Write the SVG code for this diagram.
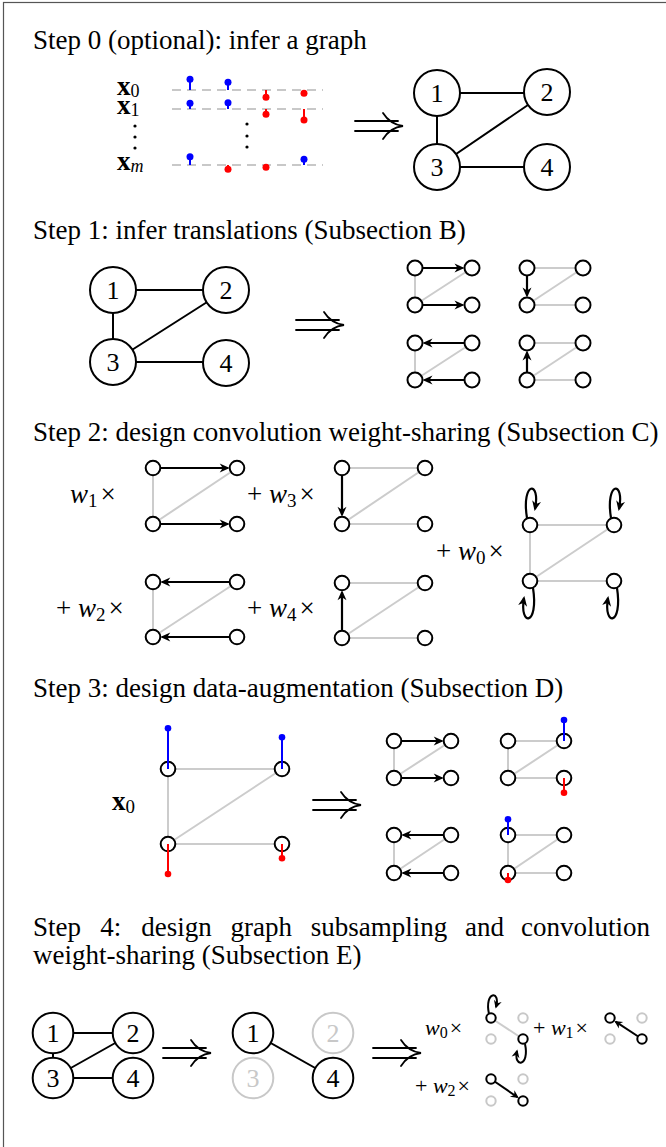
<svg xmlns="http://www.w3.org/2000/svg" width="666" height="1147" viewBox="0 0 666 1147">
  <style>
    .title { font-family: "Liberation Serif", "Times New Roman", serif; font-size: 27px; fill: #000; }
    .lbl { font-family: "Liberation Serif", "Times New Roman", serif; font-size: 26px; text-anchor: middle; dominant-baseline: central; fill: #000; }
    .lbl.g { fill: #c8c8c8; }
    .m { font-family: "Liberation Serif", "Times New Roman", serif; font-size: 27px; fill: #000; }
    .ms { font-family: "Liberation Serif", "Times New Roman", serif; font-size: 22px; fill: #000; }
    .it { font-style: italic; }
    .bf { font-weight: bold; }
    .big { fill: #fff; stroke: #000; stroke-width: 2; }
    .big.g { stroke: #c8c8c8; }
    .nd { fill: #fff; stroke: #000; stroke-width: 2; }
    .nd.g { stroke: #c8c8c8; }
    .e { stroke: #000; stroke-width: 2; fill: none; }
    .ge { stroke: #cccccc; stroke-width: 2; fill: none; }
    .ar { stroke: #000; stroke-width: 2.2; fill: none; marker-end: url(#ah); }
    .ars { stroke: #000; stroke-width: 2; fill: none; marker-end: url(#ahs); }
    .dash { stroke: #c8c8c8; stroke-width: 2; stroke-dasharray: 9 6; fill: none; }
    .bs { stroke: #0000ff; stroke-width: 2; }
    .rs { stroke: #ff0000; stroke-width: 2; }
    .bd { fill: #0000ff; }
    .rd { fill: #ff0000; }
    .imp { stroke: #000; stroke-width: 1.8; fill: none; stroke-linecap: round; }
  </style>
  <defs>
    <marker id="ah" viewBox="-9 -5 12 10" refX="0" refY="0" markerWidth="12" markerHeight="10" markerUnits="userSpaceOnUse" orient="auto">
      <path d="M2,0 L-8,-4.5 L-5,0 L-8,4.5 Z" fill="#000"/>
    </marker>
    <marker id="ahs" viewBox="-8 -5 10 10" refX="0" refY="0" markerWidth="10" markerHeight="10" markerUnits="userSpaceOnUse" orient="auto">
      <path d="M1.5,0 L-6.5,-4 L-4,0 L-6.5,4 Z" fill="#000"/>
    </marker>
    <!-- long double implication arrow -->
    <g id="imp">
      <path class="imp" d="M0,-5 H43 M0,5 H43"/>
      <path class="imp" d="M28,-13 C33,-5 40,-1 48,0 C40,1 33,5 28,13"/>
    </g>
  </defs>

  <!-- outer frame -->
  <rect x="3.5" y="2.5" width="720" height="1200" fill="none" stroke="#555" stroke-width="1.2"/>

  <!-- ===== Step 0 ===== -->
  <text class="title" x="33" y="49">Step 0 (optional): infer a graph</text>

  <g id="signals">
    <text class="m bf" x="117" y="95" font-size="26">x<tspan font-weight="normal" font-size="18" dy="2">0</tspan></text>
    <text class="m bf" x="117" y="114" font-size="26">x<tspan font-weight="normal" font-size="18" dy="2">1</tspan></text>
    <text class="m bf" x="117" y="170" font-size="26">x<tspan class="it" font-weight="normal" font-size="18" dy="2">m</tspan></text>
    <circle cx="135" cy="126" r="1.6"/><circle cx="135" cy="137" r="1.6"/><circle cx="135" cy="148" r="1.6"/>
    <circle cx="247" cy="124" r="1.6"/><circle cx="247" cy="136" r="1.6"/><circle cx="247" cy="147" r="1.6"/>
    <path class="dash" d="M172,90 H323 M172,109 H323 M172,165 H323"/>
    <!-- row x0 -->
    <line class="bs" x1="190" y1="90" x2="190" y2="79.3"/><circle class="bd" cx="190" cy="79.3" r="3.5"/>
    <line class="bs" x1="228" y1="90" x2="228" y2="82.3"/><circle class="bd" cx="228" cy="82.3" r="3.5"/>
    <line class="rs" x1="266" y1="90" x2="266" y2="97.3"/><circle class="rd" cx="266" cy="97.3" r="3.5"/>
    <line class="rs" x1="304" y1="90" x2="304" y2="93.3"/><circle class="rd" cx="304" cy="93.3" r="3.5"/>
    <!-- row x1 -->
    <line class="bs" x1="190" y1="109" x2="190" y2="103.3"/><circle class="bd" cx="190" cy="103.3" r="3.5"/>
    <line class="bs" x1="228" y1="109" x2="228" y2="102.7"/><circle class="bd" cx="228" cy="102.7" r="3.5"/>
    <line class="rs" x1="266" y1="109" x2="266" y2="114.3"/><circle class="rd" cx="266" cy="114.3" r="3.5"/>
    <line class="rs" x1="304" y1="109" x2="304" y2="120"/><circle class="rd" cx="304" cy="120" r="3.5"/>
    <!-- row xm -->
    <line class="bs" x1="190" y1="165" x2="190" y2="156.7"/><circle class="bd" cx="190" cy="156.7" r="3.5"/>
    <line class="rs" x1="228" y1="165" x2="228" y2="169.3"/><circle class="rd" cx="228" cy="169.3" r="3.5"/>
    <line class="rs" x1="266" y1="165" x2="266" y2="167.3"/><circle class="rd" cx="266" cy="167.3" r="3.5"/>
    <line class="bs" x1="304" y1="165" x2="304" y2="159.3"/><circle class="bd" cx="304" cy="159.3" r="3.5"/>
  </g>
  <use href="#imp" x="355" y="126"/>

  <g id="s0-edges">
    <path class="e" d="M437,93 H547 M437,93 V167 M437,167 L547,92 M437,167 H547"/>
  </g>
  <g id="s0-n1"><circle class="big" cx="437" cy="93" r="23"/><text class="lbl" x="437" y="93">1</text></g>
  <g id="s0-n2"><circle class="big" cx="547" cy="92" r="23"/><text class="lbl" x="547" y="92">2</text></g>
  <g id="s0-n3"><circle class="big" cx="437" cy="167" r="23"/><text class="lbl" x="437" y="167">3</text></g>
  <g id="s0-n4"><circle class="big" cx="547" cy="167" r="23"/><text class="lbl" x="547" y="167">4</text></g>

  <!-- ===== Step 1 ===== -->
  <text class="title" x="33" y="239">Step 1: infer translations (Subsection B)</text>

  <g id="s1-edges">
    <path class="e" d="M113,290 H226 M113,290 V362 M113,362 L226,290 M113,362 H226"/>
  </g>
  <g id="s1-n1"><circle class="big" cx="113" cy="290" r="23"/><text class="lbl" x="113" y="290">1</text></g>
  <g id="s1-n2"><circle class="big" cx="226" cy="290" r="23"/><text class="lbl" x="226" y="290">2</text></g>
  <g id="s1-n3"><circle class="big" cx="113" cy="362" r="23"/><text class="lbl" x="113" y="362">3</text></g>
  <g id="s1-n4"><circle class="big" cx="226" cy="363" r="23"/><text class="lbl" x="226" y="363">4</text></g>
  <use href="#imp" x="296" y="325"/>

  <!-- translation: right -->
  <g id="t-right">
    <path class="ge" d="M415,268 V305 M415,305 L472,268"/>
    <path class="ar" d="M415,268 H462.5"/>
    <path class="ar" d="M415,305 H462.5"/>
    <circle class="nd" cx="415" cy="268" r="7.5"/><circle class="nd" cx="472" cy="268" r="7.5"/>
    <circle class="nd" cx="415" cy="305" r="7.5"/><circle class="nd" cx="472" cy="305" r="7.5"/>
  </g>
  <!-- translation: down -->
  <g id="t-down">
    <path class="ge" d="M527,268 H583 M527,305 L583,268 M527,305 H583"/>
    <path class="ar" d="M527,268 V295.5"/>
    <circle class="nd" cx="527" cy="268" r="7.5"/><circle class="nd" cx="583" cy="268" r="7.5"/>
    <circle class="nd" cx="527" cy="305" r="7.5"/><circle class="nd" cx="583" cy="305" r="7.5"/>
  </g>
  <!-- translation: left -->
  <g id="t-left">
    <path class="ge" d="M415,343 V380 M415,380 L472,343"/>
    <path class="ar" d="M472,343 H424.5"/>
    <path class="ar" d="M472,380 H424.5"/>
    <circle class="nd" cx="415" cy="343" r="7.5"/><circle class="nd" cx="472" cy="343" r="7.5"/>
    <circle class="nd" cx="415" cy="380" r="7.5"/><circle class="nd" cx="472" cy="380" r="7.5"/>
  </g>
  <!-- translation: up -->
  <g id="t-up">
    <path class="ge" d="M527,343 H583 M527,380 L583,343 M527,380 H583"/>
    <path class="ar" d="M527,380 V352.5"/>
    <circle class="nd" cx="527" cy="343" r="7.5"/><circle class="nd" cx="583" cy="343" r="7.5"/>
    <circle class="nd" cx="527" cy="380" r="7.5"/><circle class="nd" cx="583" cy="380" r="7.5"/>
  </g>

  <!-- ===== Step 2 ===== -->
  <text class="title" x="33" y="441">Step 2: design convolution weight-sharing (Subsection C)</text>

  <text class="m" x="70" y="503"><tspan class="it">w</tspan><tspan font-size="19" dy="4">1</tspan><tspan dy="-4" dx="3">×</tspan></text>
  <g id="c-w1">
    <path class="ge" d="M153,468 V524 M153,524 L237,468"/>
    <path class="ar" d="M153,468 H227.7"/>
    <path class="ar" d="M153,524 H227.7"/>
    <circle class="nd" cx="153" cy="468" r="7.3"/><circle class="nd" cx="237" cy="468" r="7.3"/>
    <circle class="nd" cx="153" cy="524" r="7.3"/><circle class="nd" cx="237" cy="524" r="7.3"/>
  </g>

  <text class="m" x="247" y="503">+ <tspan class="it">w</tspan><tspan font-size="19" dy="4">3</tspan><tspan dy="-4" dx="3">×</tspan></text>
  <g id="c-w3">
    <path class="ge" d="M342,468 H425 M342,524 L425,468 M342,524 H425"/>
    <path class="ar" d="M342,468 V514.7"/>
    <circle class="nd" cx="342" cy="468" r="7.3"/><circle class="nd" cx="425" cy="468" r="7.3"/>
    <circle class="nd" cx="342" cy="524" r="7.3"/><circle class="nd" cx="425" cy="524" r="7.3"/>
  </g>

  <text class="m" x="56" y="617">+ <tspan class="it">w</tspan><tspan font-size="19" dy="4">2</tspan><tspan dy="-4" dx="3">×</tspan></text>
  <g id="c-w2">
    <path class="ge" d="M153,582 V637 M153,637 L237,582"/>
    <path class="ar" d="M237,582 H162.3"/>
    <path class="ar" d="M237,637 H162.3"/>
    <circle class="nd" cx="153" cy="582" r="7.3"/><circle class="nd" cx="237" cy="582" r="7.3"/>
    <circle class="nd" cx="153" cy="637" r="7.3"/><circle class="nd" cx="237" cy="637" r="7.3"/>
  </g>

  <text class="m" x="247" y="617">+ <tspan class="it">w</tspan><tspan font-size="19" dy="4">4</tspan><tspan dy="-4" dx="3">×</tspan></text>
  <g id="c-w4">
    <path class="ge" d="M342,583 H425 M342,638 L425,583 M342,638 H425"/>
    <path class="ar" d="M342,638 V592.3"/>
    <circle class="nd" cx="342" cy="583" r="7.3"/><circle class="nd" cx="425" cy="583" r="7.3"/>
    <circle class="nd" cx="342" cy="638" r="7.3"/><circle class="nd" cx="425" cy="638" r="7.3"/>
  </g>

  <text class="m" x="436" y="560">+ <tspan class="it">w</tspan><tspan font-size="19" dy="4">0</tspan><tspan dy="-4" dx="3">×</tspan></text>
  <g id="c-w0">
    <path class="ge" d="M530,525 H614 M530,525 V581 M530,581 L614,525 M530,581 H614"/>
    <path class="ar" d="M527,518 C521,481 541,480 535,509"/>
    <path class="ar" d="M611,518 C605,481 625,480 619,509"/>
    <path class="ar" d="M533,588 C539,626 519,627 524,598"/>
    <path class="ar" d="M617,588 C623,626 603,627 608,598"/>
    <circle class="nd" cx="530" cy="525" r="7.3"/><circle class="nd" cx="614" cy="525" r="7.3"/>
    <circle class="nd" cx="530" cy="581" r="7.3"/><circle class="nd" cx="614" cy="581" r="7.3"/>
  </g>

  <!-- ===== Step 3 ===== -->
  <text class="title" x="33" y="697">Step 3: design data-augmentation (Subsection D)</text>

  <text class="m bf" x="112" y="810" font-size="27">x<tspan font-weight="normal" font-size="19" dy="3">0</tspan></text>
  <g id="aug-signal">
    <path class="ge" d="M168,769 H282 M168,769 V844 M168,844 L282,769 M168,844 H282"/>
    <circle class="nd" cx="168" cy="769" r="7.3"/><circle class="nd" cx="282" cy="769" r="7.3"/>
    <circle class="nd" cx="168" cy="844" r="7.3"/><circle class="nd" cx="282" cy="844" r="7.3"/>
    <line class="bs" x1="168" y1="769" x2="168" y2="728.3"/><circle class="bd" cx="168" cy="728.3" r="3.3"/>
    <line class="bs" x1="282" y1="769" x2="282" y2="737.3"/><circle class="bd" cx="282" cy="737.3" r="3.3"/>
    <line class="rs" x1="168" y1="844" x2="168" y2="874"/><circle class="rd" cx="168" cy="874" r="3.3"/>
    <line class="rs" x1="282" y1="844" x2="282" y2="858.3"/><circle class="rd" cx="282" cy="858.3" r="3.3"/>
  </g>
  <use href="#imp" x="313" y="805"/>

  <g id="aug-right">
    <path class="ge" d="M394,741 V778 M394,778 L451,741"/>
    <path class="ar" d="M394,741 H441.7"/>
    <path class="ar" d="M394,778 H441.7"/>
    <circle class="nd" cx="394" cy="741" r="7.3"/><circle class="nd" cx="451" cy="741" r="7.3"/>
    <circle class="nd" cx="394" cy="778" r="7.3"/><circle class="nd" cx="451" cy="778" r="7.3"/>
  </g>
  <g id="aug-shift-a">
    <path class="ge" d="M508,741 H564 M508,741 V778 M508,778 L564,741 M508,778 H564"/>
    <circle class="nd" cx="508" cy="741" r="7.3"/><circle class="nd" cx="564" cy="741" r="7.3"/>
    <circle class="nd" cx="508" cy="778" r="7.3"/><circle class="nd" cx="564" cy="778" r="7.3"/>
    <line class="bs" x1="564" y1="741" x2="564" y2="720"/><circle class="bd" cx="564" cy="720" r="3.3"/>
    <line class="rs" x1="564" y1="778" x2="564" y2="792.7"/><circle class="rd" cx="564" cy="792.7" r="3.3"/>
  </g>
  <g id="aug-left">
    <path class="ge" d="M394,835 V873 M394,873 L451,835"/>
    <path class="ar" d="M451,835 H403.3"/>
    <path class="ar" d="M451,873 H403.3"/>
    <circle class="nd" cx="394" cy="835" r="7.3"/><circle class="nd" cx="451" cy="835" r="7.3"/>
    <circle class="nd" cx="394" cy="873" r="7.3"/><circle class="nd" cx="451" cy="873" r="7.3"/>
  </g>
  <g id="aug-shift-b">
    <path class="ge" d="M508,835 H564 M508,835 V873 M508,873 L564,835 M508,873 H564"/>
    <circle class="nd" cx="508" cy="835" r="7.3"/><circle class="nd" cx="564" cy="835" r="7.3"/>
    <circle class="nd" cx="508" cy="873" r="7.3"/><circle class="nd" cx="564" cy="873" r="7.3"/>
    <line class="bs" x1="508" y1="835" x2="508" y2="819.3"/><circle class="bd" cx="508" cy="819.3" r="3.3"/>
    <line class="rs" x1="508" y1="873" x2="508" y2="880"/><circle class="rd" cx="508" cy="880" r="3.3"/>
  </g>

  <!-- ===== Step 4 ===== -->
  <g class="title">
    <text x="33" y="936">Step</text>
    <text x="100.3" y="936">4:</text>
    <text x="141.2" y="936">design</text>
    <text x="230.5" y="936">graph</text>
    <text x="310.8" y="936">subsampling</text>
    <text x="465.1" y="936">and</text>
    <text x="650" y="936" text-anchor="end">convolution</text>
  </g>
  <text class="title" x="33" y="964">weight-sharing (Subsection E)</text>

  <g id="s4-edges">
    <path class="e" d="M53,1033 H133 M53,1033 V1078 M53,1078 L133,1033 M53,1078 H133"/>
  </g>
  <g id="s4-n1"><circle class="big" cx="53" cy="1033" r="20.3"/><text class="lbl" x="53" y="1033">1</text></g>
  <g id="s4-n2"><circle class="big" cx="133" cy="1033" r="20.3"/><text class="lbl" x="133" y="1033">2</text></g>
  <g id="s4-n3"><circle class="big" cx="53" cy="1078" r="20.3"/><text class="lbl" x="53" y="1078">3</text></g>
  <g id="s4-n4"><circle class="big" cx="133" cy="1078" r="20.3"/><text class="lbl" x="133" y="1078">4</text></g>
  <use href="#imp" x="163" y="1053"/>

  <g id="sub-edges">
    <path class="e" d="M253,1033 L333,1078"/>
  </g>
  <g id="sub-n1"><circle class="big" cx="253" cy="1033" r="20.3"/><text class="lbl" x="253" y="1033">1</text></g>
  <g id="sub-n2"><circle class="big g" cx="333" cy="1033" r="20.3"/><text class="lbl g" x="333" y="1033">2</text></g>
  <g id="sub-n3"><circle class="big g" cx="253" cy="1078" r="20.3"/><text class="lbl g" x="253" y="1078">3</text></g>
  <g id="sub-n4"><circle class="big" cx="333" cy="1078" r="20.3"/><text class="lbl" x="333" y="1078">4</text></g>
  <use href="#imp" x="373" y="1053"/>

  <text class="ms" x="425" y="1035"><tspan class="it">w</tspan><tspan font-size="16" dy="3">0</tspan><tspan dy="-3" dx="2">×</tspan></text>
  <g id="sub-w0">
    <path class="ge" d="M491,1018 L523,1039"/>
    <path class="ars" d="M489,1014 C484,991 501,990 496,1007"/>
    <path class="ars" d="M525,1044 C530,1067 513,1068 517,1051"/>
    <circle class="nd" cx="491" cy="1018" r="4.7"/><circle class="nd g" cx="523" cy="1018" r="4.7"/>
    <circle class="nd g" cx="491" cy="1039" r="4.7"/><circle class="nd" cx="523" cy="1039" r="4.7"/>
  </g>

  <text class="ms" x="533" y="1035">+ <tspan class="it">w</tspan><tspan font-size="16" dy="3">1</tspan><tspan dy="-3" dx="2">×</tspan></text>
  <g id="sub-w1">
    <path class="ars" d="M642,1039 L615.6,1021.7"/>
    <circle class="nd" cx="610" cy="1018" r="4.7"/><circle class="nd g" cx="642" cy="1018" r="4.7"/>
    <circle class="nd g" cx="610" cy="1039" r="4.7"/><circle class="nd" cx="642" cy="1039" r="4.7"/>
  </g>

  <text class="ms" x="415" y="1093">+ <tspan class="it">w</tspan><tspan font-size="16" dy="3">2</tspan><tspan dy="-3" dx="2">×</tspan></text>
  <g id="sub-w2">
    <path class="ars" d="M491,1079 L517.5,1097.2"/>
    <circle class="nd" cx="491" cy="1079" r="4.7"/><circle class="nd g" cx="523" cy="1079" r="4.7"/>
    <circle class="nd g" cx="491" cy="1101" r="4.7"/><circle class="nd" cx="523" cy="1101" r="4.7"/>
  </g>
</svg>
